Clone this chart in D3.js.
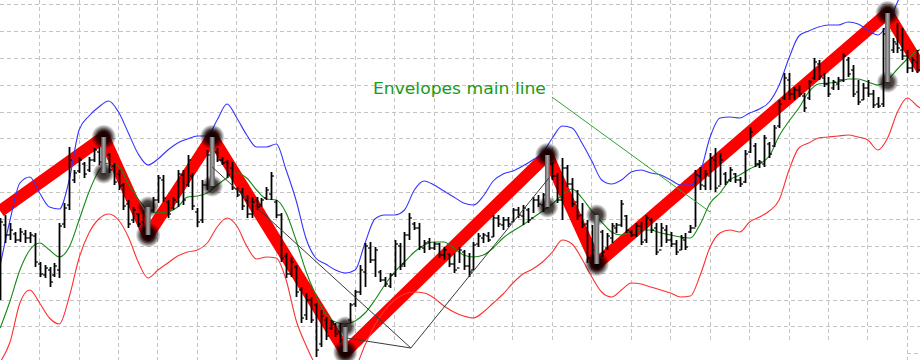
<!DOCTYPE html>
<html>
<head>
<meta charset="utf-8">
<script src="https://cdn.jsdelivr.net/npm/d3@7"></script>
<style>
  body { margin: 0; background: #fff; }
  svg { display: block; }
</style>
</head>
<body>
<svg id="chart" width="920" height="360"></svg>
<script>
// bar prices (points), one entry per bar
var highs = [182,185,177,168,172,170,168,167,138,135,
  133,137,177,197,253,230,243,238,243,252,
  253,263,247,237,230,217,200,193,187,190,
  193,203,225,225,200,203,230,230,245,227,
  192,220,250,263,252,243,240,238,213,212,
  205,203,203,202,213,228,200,187,147,143,
  135,113,107,103,97,90,83,80,77,77,
  73,97,110,135,157,158,153,130,123,127,
  160,157,168,187,178,177,160,162,158,157,
  153,147,147,153,150,147,158,167,167,168,
  185,185,183,183,192,193,195,192,203,205,
  207,245,238,227,242,235,222,210,197,180,
  175,185,170,167,177,177,200,185,170,177,
  178,185,182,177,177,175,168,160,165,167,
  175,230,233,230,247,252,247,228,233,227,
  223,250,273,257,240,265,258,275,300,327,
  327,313,315,307,320,342,340,327,323,320,
  323,347,343,335,320,317,320,310,303,372,
  387,362,377,372,350,343,350];
var lows = [100,157,160,157,158,157,157,133,123,122,
  113,123,122,172,190,217,227,222,228,238,
  235,227,227,215,210,190,172,177,173,168,
  165,188,197,198,182,190,193,195,213,190,
  173,177,210,214,238,235,222,210,203,190,
  182,182,190,193,200,200,182,138,122,123,
  103,77,80,77,43,53,60,70,63,57,
  48,77,93,105,113,137,123,118,113,112,
  123,130,133,160,170,150,147,150,150,142,
  140,133,127,137,130,123,130,153,157,158,
  163,173,170,173,178,182,175,177,187,193,
  188,193,220,197,180,213,193,180,172,137,
  140,136,143,150,157,167,173,167,163,163,
  155,157,167,145,153,157,153,145,150,150,
  167,173,210,210,210,208,215,215,218,217,
  213,217,247,233,232,233,242,253,272,300,
  300,300,303,288,300,320,320,313,303,310,
  310,318,323,303,295,300,303,292,292,293,
  318,347,347,340,327,328,327];
var opens = [110,175,165,166,160,166,162,164,136,125,
  130,125,130,176,195,220,229,236,230,240,
  248,240,245,234,226,215,196,180,186,178,
  170,190,200,220,198,192,198,225,215,224,
  188,180,215,245,248,240,238,232,211,208,
  200,186,200,195,202,206,198,185,144,126,
  133,110,85,100,95,56,80,72,76,68,
  58,80,96,108,128,152,140,128,120,114,
  126,154,136,165,176,172,152,158,152,156,
  145,146,136,132,148,134,130,156,162,164,
  163,182,175,180,178,190,184,190,182,200,
  195,205,236,224,200,232,216,198,185,176,
  142,148,168,152,162,172,175,184,168,165,
  174,160,180,172,150,170,160,156,150,160,
  168,172,224,214,224,240,214,226,220,226,
  220,218,248,254,236,236,256,254,274,302,
  320,306,310,304,302,322,336,322,316,312,
  316,320,340,330,308,300,312,306,296,296,
  360,350,356,350,344,332,338];
var closes = [178,165,170,160,168,162,165,138,126,132,
  118,134,174,192,240,227,240,226,240,250,
  238,258,230,218,214,194,176,190,176,172,
  190,200,222,202,186,200,226,200,240,194,
  178,215,245,222,240,237,225,212,205,194,
  186,198,193,200,210,224,185,142,126,138,
  108,82,100,80,50,84,64,78,66,60,
  70,95,108,130,154,140,150,120,116,125,
  156,134,165,182,172,153,157,152,156,145,
  150,136,130,150,134,128,155,164,165,160,
  182,176,180,176,190,185,192,180,200,196,
  205,238,224,200,232,216,196,184,175,142,
  150,170,148,164,174,175,196,170,165,174,
  158,182,170,148,172,160,156,148,162,153,
  172,225,215,226,242,212,240,218,230,220,
  216,246,268,236,238,262,246,272,296,322,
  306,310,306,292,318,338,324,316,306,318,
  320,344,326,306,298,312,306,295,294,366,
  340,358,352,344,332,340,330];

// zigzag turning bars and the zigzag path [bar, price]
var pivots = [21, 30, 43, 70, 111, 121, 180];
var pivotIsHigh = [true, false, true, false, true, false, true];
var zigzag = [[0,189],[21,263],[30,165],[43,263],[70,48],[111,245],[121,136],[180,387],[187,330]];

// envelopes, one value every 2 bars
var lineStep = 2;
var upper = [135,180,217,223,207,193,191,220,270,284,
  293,299,288,267,246,235,241,250,257,261,
  264,264,280,296,282,265,253,253,256,230,
  200,162,142,136,130,127,130,157,181,185,
  185,190,210,219,215,209,203,197,195,204,
  219,226,229,234,240,247,262,274,272,257,
  239,220,216,220,228,230,227,225,220,215,
  215,228,263,282,283,282,287,291,298,315,
  342,364,369,373,375,375,378,376,370,365,
  376,398,420,445,470];
var middle = [72,99,130,150,157,150,143,153,180,208,
  229,237,234,216,201,190,187,188,193,203,
  204,207,215,222,227,222,210,201,200,187,
  160,129,105,86,78,76,79,87,100,115,
  128,138,148,155,158,158,152,145,143,145,
  152,162,169,175,182,189,196,205,211,202,
  189,178,168,165,168,170,170,167,165,163,
  162,176,197,207,220,225,231,236,244,264,
  279,292,308,316,317,318,321,321,318,315,
  320,331,341,349,353];
var lower = [38,58,97,110,97,82,76,103,142,167,
  181,186,180,163,138,122,130,137,144,148,
  150,157,173,182,174,154,141,143,142,120,
  80,55,35,25,22,25,32,55,75,90,
  100,106,108,107,102,94,88,84,82,88,
  97,106,117,126,131,138,148,160,156,141,
  123,108,103,110,117,116,113,110,107,103,
  104,125,153,167,170,168,178,183,189,200,
  230,252,257,262,263,264,265,263,260,250,
  262,288,302,294,288];

// grid positions
var gridBars = [7.9,15.9,23.9,31.9,39.9,47.9,55.9,63.9,71.9,79.9,87.9,95.9,
  103.9,111.9,119.9,127.9,135.9,143.9,151.9,159.9,167.9,175.9,183.9];
var gridPrices = [396,369.1,342.3,315.4,288.5,261.7,234.8,207.9,181,154.2,127.3,100.4,73.6,46.7];

// annotations [bar, price]
var labelText = "Envelopes main line";
var labelPos = [75.6, 306];
var labelPointer = [[111.9, 303], [144, 188]];
var blackLines = [
  [[43, 233], [83.3, 52]],
  [[70.3, 62], [83.3, 52]],
  [[83.3, 52], [111.3, 222]]
];

var svg = d3.select("#chart"),
    width = +svg.attr("width"),
    height = +svg.attr("height");

var x = d3.scaleLinear().domain([0, 186]).range([0.2, 917.2]);
var y = d3.scaleLinear().domain([40, 400]).range([height, 0]);

var defs = svg.append("defs");
var blob = defs.append("radialGradient").attr("id", "blob");
blob.append("stop").attr("offset", "0%").attr("stop-color", "#000").attr("stop-opacity", 1);
blob.append("stop").attr("offset", "55%").attr("stop-color", "#140000").attr("stop-opacity", 0.85);
blob.append("stop").attr("offset", "100%").attr("stop-color", "#000").attr("stop-opacity", 0);
var greyBar = defs.append("linearGradient").attr("id", "greybar");
greyBar.append("stop").attr("offset", "0%").attr("stop-color", "#555");
greyBar.append("stop").attr("offset", "50%").attr("stop-color", "#a8a8a8");
greyBar.append("stop").attr("offset", "100%").attr("stop-color", "#555");

// grid
var grid = svg.append("g")
    .attr("stroke", "#c4c4c4")
    .attr("stroke-width", 1)
    .attr("stroke-dasharray", "4,3");
grid.selectAll("line.gx")
    .data(gridBars)
  .enter().append("line")
    .attr("class", "gx")
    .attr("x1", function(d) { return Math.round(x(d)) + 0.5; })
    .attr("x2", function(d) { return Math.round(x(d)) + 0.5; })
    .attr("y1", 0)
    .attr("y2", function(d) { return (d > 60 && d < 180) ? 343 : height; });
grid.selectAll("line.gy")
    .data(gridPrices)
  .enter().append("line")
    .attr("class", "gy")
    .attr("x1", function(d) { return d < 60 ? Math.round(x(183.9)) : 0; })
    .attr("x2", width)
    .attr("y1", function(d) { return Math.round(y(d)) + 0.5; })
    .attr("y2", function(d) { return Math.round(y(d)) + 0.5; });

// zigzag
var line = d3.line()
    .x(function(d) { return x(d[0]); })
    .y(function(d) { return y(d[1]); });
svg.append("path")
    .datum(zigzag)
    .attr("fill", "none")
    .attr("stroke", "#ff0000")
    .attr("stroke-width", 12)
    .attr("stroke-linejoin", "round")
    .attr("d", line);

// envelopes
var envLine = d3.line()
    .x(function(d, k) { return x(k * lineStep); })
    .y(function(d) { return y(d); })
    .curve(d3.curveMonotoneX);
[[upper, "#3434ff"], [middle, "#138a13"], [lower, "#ff3030"]].forEach(function(s) {
  svg.append("path")
      .datum(s[0])
      .attr("fill", "none")
      .attr("stroke", s[1])
      .attr("stroke-width", 1.1)
      .attr("d", envLine);
});

// bars
var bars = svg.append("g").attr("stroke", "#000");
highs.forEach(function(h, i) {
  if (pivots.indexOf(i) >= 0) return;
  var cx = Math.round(x(i)) + 0.5;
  bars.append("line").attr("x1", cx).attr("x2", cx)
      .attr("y1", y(h)).attr("y2", y(lows[i])).attr("stroke-width", 1.8);
  bars.append("line").attr("x1", cx - 2.5).attr("x2", cx)
      .attr("y1", y(opens[i])).attr("y2", y(opens[i])).attr("stroke-width", 1.2);
  bars.append("line").attr("x1", cx).attr("x2", cx + 2.5)
      .attr("y1", y(closes[i])).attr("y2", y(closes[i])).attr("stroke-width", 1.2);
});

// pivot markers
pivots.forEach(function(p, k) {
  var cx = x(p);
  var top = y(highs[p]), bot = y(lows[p]);
  var ext = pivotIsHigh[k] ? top : bot;
  var other = pivotIsHigh[k] ? bot : top;
  svg.append("circle").attr("cx", cx).attr("cy", other).attr("r", 11)
      .attr("fill", "url(#blob)").attr("opacity", 0.85);
  svg.append("circle").attr("cx", cx).attr("cy", ext).attr("r", 12.5)
      .attr("fill", "url(#blob)");
  svg.append("rect")
      .attr("x", cx - 2.5).attr("width", 5)
      .attr("y", top).attr("height", bot - top)
      .attr("fill", "url(#greybar)");
});

// annotation lines
blackLines.forEach(function(seg) {
  svg.append("line")
      .attr("x1", x(seg[0][0])).attr("y1", y(seg[0][1]))
      .attr("x2", x(seg[1][0])).attr("y2", y(seg[1][1]))
      .attr("stroke", "#3a3a3a").attr("stroke-width", 1);
});
svg.append("line")
    .attr("x1", x(labelPointer[0][0])).attr("y1", y(labelPointer[0][1]))
    .attr("x2", x(labelPointer[1][0])).attr("y2", y(labelPointer[1][1]))
    .attr("stroke", "#2ea42e").attr("stroke-width", 1);
svg.append("text")
    .attr("x", x(labelPos[0]))
    .attr("y", y(labelPos[1]))
    .attr("font-family", "DejaVu Sans, Verdana, sans-serif")
    .attr("font-size", 15)
    .attr("fill", "#1a9a1a")
    .attr("textLength", 173)
    .attr("lengthAdjust", "spacingAndGlyphs")
    .text(labelText);
</script>
</body>
</html>
